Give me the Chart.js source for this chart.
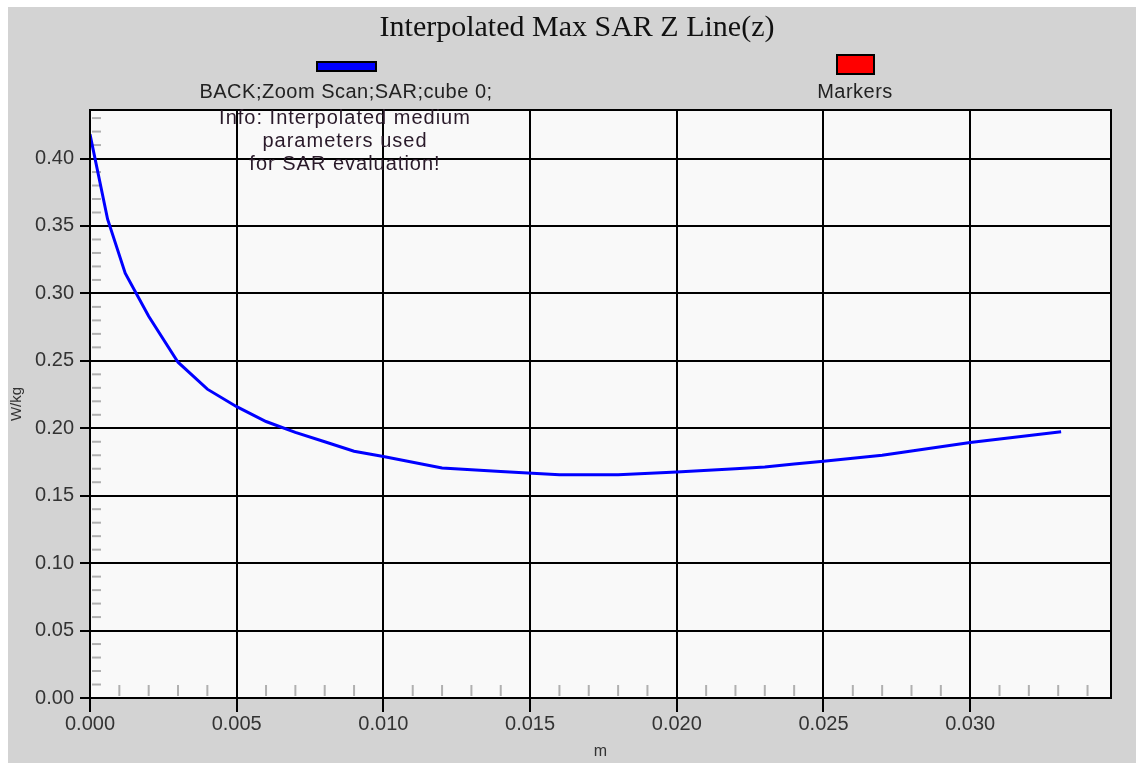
<!DOCTYPE html>
<html lang="en">
<head>
    <meta charset="UTF-8">
    <title>Interpolated Max SAR Z Line(z)</title>
    <script src="https://cdn.jsdelivr.net/npm/chart.js"></script>
    <style>
        body{
            margin: 0;
            background-color: white;
        }
        .box{
            position: absolute;
            left: 8px;
            top: 7px;
            width: 1128px;
            height: 756px;
            background-color: #d3d3d3;
        }
    </style>
</head>
<body>
<div class="box">
    <canvas id="chart" width="1128" height="756"></canvas>
</div>
<script>

    // distance along z (m) and interpolated SAR (W/kg)
    let zValues = [0, 0.0006, 0.0012, 0.002, 0.003, 0.004, 0.005, 0.006, 0.007, 0.008, 0.009, 0.010,
        0.012, 0.014, 0.016, 0.018, 0.020, 0.022, 0.023, 0.024, 0.025, 0.027, 0.030, 0.0331];
    let sarValues = [0.418, 0.355, 0.315, 0.283, 0.249, 0.229, 0.216, 0.205, 0.197, 0.190, 0.183, 0.179,
        0.1705, 0.168, 0.1655, 0.1655, 0.1675, 0.1700, 0.1712, 0.1735, 0.1755, 0.180, 0.1895, 0.1975];

    let titleText = "Interpolated Max SAR Z Line(z)";
    let legendLabels = ["BACK;Zoom Scan;SAR;cube 0;", "Markers"];
    let legendColors = ["#0000ff", "#ff0000"];
    let infoLines = ["Info: Interpolated medium", "parameters used", "for SAR evaluation!"];
    let xTitle = "m";
    let yTitle = "W/kg";

    let points = zValues.map((z, i) => ({x: z, y: sarValues[i]}));
    let sans = '"Liberation Sans", Arial, sans-serif';

    // draws the plot background, frame, minor ticks, legend and info text
    const extras = {
        id: 'extras',
        beforeDraw(chart) {
            let area = chart.chartArea;
            chart.ctx.save();
            chart.ctx.fillStyle = '#f9f9f9';
            chart.ctx.fillRect(area.left, area.top, area.right - area.left, area.bottom - area.top);
            chart.ctx.restore();
        },
        beforeDatasetsDraw(chart) {
            let ctx = chart.ctx;
            let area = chart.chartArea;
            let xs = chart.scales.x;
            let ys = chart.scales.y;
            ctx.save();
            ctx.strokeStyle = '#b0b0b0';
            ctx.lineWidth = 2;
            for (let i = 1; i < 44; i++) {
                if (i % 5 === 0) continue;
                let py = ys.getPixelForValue(i / 100);
                if (py < area.top) continue;
                ctx.beginPath();
                ctx.moveTo(area.left + 2, py);
                ctx.lineTo(area.left + 11, py);
                ctx.stroke();
            }
            for (let i = 1; i < 35; i++) {
                if (i % 5 === 0) continue;
                let px = xs.getPixelForValue(i / 1000);
                ctx.beginPath();
                ctx.moveTo(px, area.bottom - 2);
                ctx.lineTo(px, area.bottom - 13);
                ctx.stroke();
            }
            ctx.restore();
        },
        afterDraw(chart) {
            let ctx = chart.ctx;
            let area = chart.chartArea;
            ctx.save();
            ctx.strokeStyle = '#000';
            ctx.lineWidth = 2;
            ctx.strokeRect(area.left, area.top, area.right - area.left, area.bottom - area.top);

            ctx.fillStyle = '#111';
            ctx.textAlign = 'center';
            ctx.textBaseline = 'middle';
            ctx.font = '30px "Liberation Serif", serif';
            ctx.fillText(titleText, 569, 21);

            // legend boxes
            ctx.lineWidth = 2;
            ctx.fillStyle = legendColors[0];
            ctx.fillRect(309, 55, 59, 9);
            ctx.strokeRect(309, 55, 59, 9);
            ctx.fillStyle = legendColors[1];
            ctx.fillRect(829, 48, 37, 19);
            ctx.strokeRect(829, 48, 37, 19);

            ctx.fillStyle = '#222';
            ctx.font = '20px ' + sans;
            ctx.letterSpacing = '0.5px';
            ctx.fillText(legendLabels[0], 338, 85);
            ctx.fillText(legendLabels[1], 847, 85);

            ctx.fillStyle = '#2a1a2a';
            ctx.letterSpacing = '1px';
            infoLines.forEach((line, i) => {
                ctx.fillText(line, 337, 111 + i * 23);
            });
            ctx.restore();
        }
    };

    let ctx = document.getElementById('chart').getContext('2d');
    let myChart = new Chart(ctx, {
        type: 'scatter',
        data: {
            datasets: [{
                label: legendLabels[0],
                data: points,
                showLine: true,
                borderColor: '#0000ff',
                borderWidth: 3,
                pointRadius: 0,
                tension: 0
            }]
        },
        options: {
            responsive: false,
            animation: false,
            layout: {
                padding: {top: 103, right: 25, left: 0, bottom: 0}
            },
            plugins: {
                legend: {display: false},
                tooltip: {enabled: false}
            },
            scales: {
                x: {
                    type: 'linear',
                    min: 0,
                    max: 0.0348,
                    afterFit: function(scale) { scale.height = 65; },
                    ticks: {
                        stepSize: 0.005,
                        includeBounds: false,
                        color: '#333',
                        font: {family: sans, size: 20},
                        padding: 0,
                        maxRotation: 0,
                        callback: v => v.toFixed(3)
                    },
                    grid: {color: '#000', lineWidth: 2, tickLength: 14},
                    border: {color: '#000', width: 2},
                    title: {
                        display: true,
                        text: xTitle,
                        color: '#333',
                        font: {family: sans, size: 16},
                        padding: {top: 0, bottom: 2}
                    }
                },
                y: {
                    min: 0,
                    max: 0.436,
                    afterFit: function(scale) { scale.width = 82; },
                    ticks: {
                        stepSize: 0.05,
                        includeBounds: false,
                        color: '#333',
                        font: {family: sans, size: 20},
                        padding: 6,
                        callback: v => v.toFixed(2)
                    },
                    grid: {color: '#000', lineWidth: 2, tickLength: 10},
                    border: {color: '#000', width: 2},
                    title: {
                        display: true,
                        text: yTitle,
                        color: '#333',
                        font: {family: sans, size: 15},
                        padding: {top: 0, bottom: 0}
                    }
                }
            }
        },
        plugins: [extras]
    });

</script>
</body>
</html>
